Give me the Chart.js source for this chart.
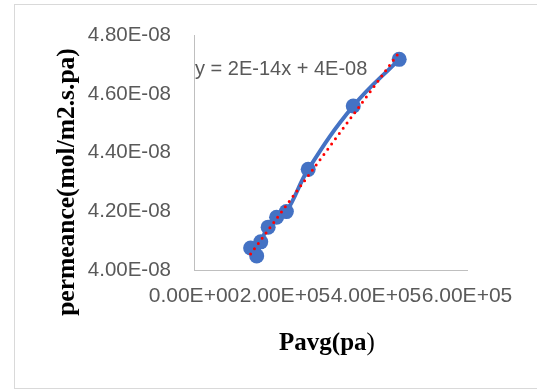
<!DOCTYPE html>
<html><head><meta charset="utf-8">
<script src="https://cdn.jsdelivr.net/npm/chart.js@4/dist/chart.umd.min.js"></script>
<style>
html,body{margin:0;padding:0;background:#fff;}
#wrap{position:relative;width:537px;height:389px;overflow:hidden;background:#fff;}
#frame{position:absolute;left:14px;top:4px;width:600px;height:385px;border:1px solid #d9d9d9;box-sizing:border-box;}
canvas{position:absolute;left:0;top:0;}
</style></head><body>
<div id="wrap"><div id="frame"></div><canvas id="c" width="537" height="389"></canvas></div>
<script>
// ---- data ----
const pavg = [124400, 137800, 146700, 163000, 181500, 203000, 251000, 350000, 451000];
const permeance = [4.075e-8, 4.048e-8, 4.096e-8, 4.146e-8, 4.180e-8, 4.199e-8, 4.343e-8, 4.559e-8, 4.718e-8];
const xTicks = [0, 200000, 400000, 600000];
const xTickLabels = ['0.00E+00', '2.00E+05', '4.00E+05', '6.00E+05'];
const yTicks = [4.0e-8, 4.2e-8, 4.4e-8, 4.6e-8, 4.8e-8];
const yTickLabels = ['4.00E-08', '4.20E-08', '4.40E-08', '4.60E-08', '4.80E-08'];
const equationText = 'y = 2E-14x + 4E-08';
const xTitle = 'Pavg(pa';
const xTitleTail = ')';
const yTitle = 'permeance(mol/m2.s.pa)';

// linear trendline (least squares) over the data range
const n = pavg.length;
const mx = pavg.reduce((a, b) => a + b, 0) / n;
const my = permeance.reduce((a, b) => a + b, 0) / n;
let sxy = 0, sxx = 0;
for (let i = 0; i < n; i++) { sxy += (pavg[i] - mx) * (permeance[i] - my); sxx += (pavg[i] - mx) ** 2; }
const slope = sxy / sxx, icpt = my - slope * mx;
const xmin = Math.min(...pavg), xmax = Math.max(...pavg);
const trend = [{x: xmin, y: icpt + slope * xmin}, {x: xmax, y: icpt + slope * xmax}];

const textPlugin = {
  id: 'texts',
  afterDraw(chart) {
    const ctx = chart.ctx, a = chart.chartArea;
    ctx.save();
    // equation
    ctx.fillStyle = '#595959';
    ctx.font = '20px "Liberation Sans", Arial, sans-serif';
    ctx.textBaseline = 'middle';
    ctx.textAlign = 'left';
    ctx.fillText(equationText, a.left + 1, 69);
    // x title
    ctx.fillStyle = '#000';
    ctx.font = 'bold 25px "Liberation Serif", "Times New Roman", serif';
    const w1 = ctx.measureText(xTitle).width;
    ctx.font = '25px "Liberation Serif", "Times New Roman", serif';
    const w2 = ctx.measureText(xTitleTail).width;
    const cx = 327, by = 350;
    ctx.textBaseline = 'alphabetic';
    ctx.font = 'bold 25px "Liberation Serif", "Times New Roman", serif';
    ctx.fillText(xTitle, cx - (w1 + w2) / 2, by);
    ctx.font = '25px "Liberation Serif", "Times New Roman", serif';
    ctx.fillText(xTitleTail, cx - (w1 + w2) / 2 + w1, by);
    // y title
    ctx.font = 'bold 25.5px "Liberation Serif", "Times New Roman", serif';
    ctx.translate(74, 182);
    ctx.rotate(-Math.PI / 2);
    ctx.textAlign = 'center';
    ctx.textBaseline = 'alphabetic';
    ctx.fillText(yTitle, 0, 0);
    ctx.restore();
  }
};

new Chart(document.getElementById('c'), {
  type: 'scatter',
  data: {
    datasets: [
      {
        label: 'trend',
        data: trend,
        showLine: true,
        borderColor: '#FF0000',
        borderWidth: 3,
        borderDash: [0, 6.5],
        borderCapStyle: 'round',
        pointRadius: 0,
        fill: false,
        order: 0
      },
      {
        label: 'permeance',
        data: pavg.map((x, i) => ({x, y: permeance[i]})),
        showLine: true,
        borderColor: '#4472C4',
        borderWidth: 4,
        tension: 0.4,
        pointRadius: 7.5,
        pointBackgroundColor: '#4472C4',
        pointBorderWidth: 0,
        fill: false,
        order: 1
      }
    ]
  },
  options: {
    responsive: false,
    animation: false,
    layout: {padding: {top: 33, left: 0, right: 70, bottom: 0}},
    plugins: {legend: {display: false}, tooltip: {enabled: false}},
    scales: {
      x: {
        type: 'linear', min: 0, max: 600000,
        afterBuildTicks: s => { s.ticks = xTicks.map(v => ({value: v})); },
        afterFit: s => { s.height = 119; },
        grid: {display: false, drawTicks: false},
        border: {display: true, color: '#bfbfbf', width: 1},
        ticks: {
          autoSkip: false, maxRotation: 0, minRotation: 0, padding: 14,
          color: '#595959', font: {family: '"Liberation Sans", Arial, sans-serif', size: 21},
          callback: (v, i) => xTickLabels[i]
        }
      },
      y: {
        type: 'linear', min: 4.0e-8, max: 4.8e-8,
        afterBuildTicks: s => { s.ticks = yTicks.map(v => ({value: v})); },
        afterFit: s => { s.width = 194; },
        grid: {display: false, drawTicks: false},
        border: {display: true, color: '#bfbfbf', width: 1},
        ticks: {
          autoSkip: false, padding: 23,
          color: '#595959', font: {family: '"Liberation Sans", Arial, sans-serif', size: 20.5},
          callback: (v, i) => yTickLabels[i]
        }
      }
    }
  },
  plugins: [textPlugin]
});
</script>
</body></html>
